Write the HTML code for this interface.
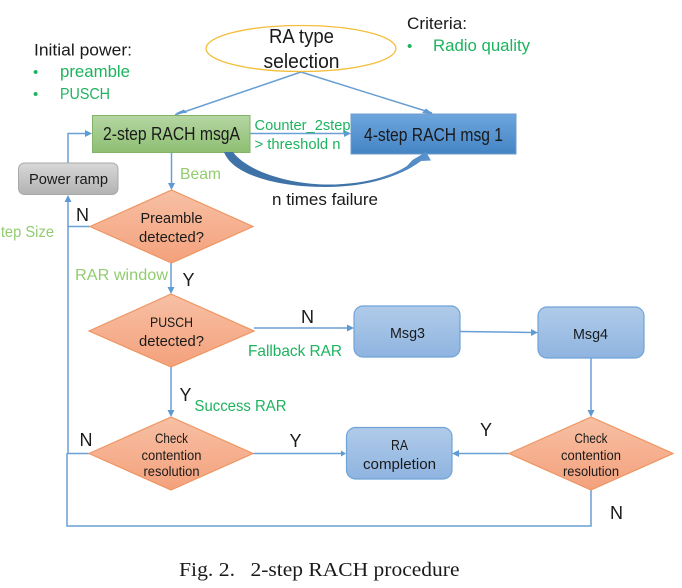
<!DOCTYPE html>
<html><head><meta charset="utf-8"><style>
html,body{margin:0;padding:0;background:#fff;width:682px;height:588px;overflow:hidden}
svg{display:block}
text{font-family:"Liberation Sans",sans-serif;fill:#1a1a1a}
.g{fill:#1db35e}.l{fill:#92cc6e}
</style></head><body>
<svg width="682" height="588" viewBox="0 0 682 588" xmlns="http://www.w3.org/2000/svg">
<defs>
<linearGradient id="gr" x1="0" y1="0" x2="0" y2="1"><stop offset="0" stop-color="#b5d6a3"/><stop offset="1" stop-color="#8ebf72"/></linearGradient>
<linearGradient id="bl" x1="0" y1="0" x2="0" y2="1"><stop offset="0" stop-color="#6ea6de"/><stop offset="1" stop-color="#4484c4"/></linearGradient>
<linearGradient id="lb" x1="0" y1="0" x2="0" y2="1"><stop offset="0" stop-color="#b0cbe9"/><stop offset="1" stop-color="#8fb4e0"/></linearGradient>
<linearGradient id="gy" x1="0" y1="0" x2="0" y2="1"><stop offset="0" stop-color="#d8d8d8"/><stop offset="1" stop-color="#b2b2b2"/></linearGradient>
<linearGradient id="or" x1="0" y1="0" x2="0" y2="1"><stop offset="0" stop-color="#f7c0a4"/><stop offset="1" stop-color="#f4a17c"/></linearGradient>
<linearGradient id="cv" x1="0" y1="0" x2="1" y2="0"><stop offset="0" stop-color="#3f73a8"/><stop offset=".65" stop-color="#3f73a8"/><stop offset="1" stop-color="#5a94d0"/></linearGradient>
</defs>

<!-- connectors -->
<g fill="none" stroke="#6a9fd4" stroke-width="1.500">
<path d="M301,72 L175,115"/>
<path d="M301,72 L432,113"/>
<path d="M250,133.500 L345,133.500"/>
<path d="M68,163 V133.500 H87"/>
<path d="M171.500,152.500 V185"/>
<path d="M90,226.500 H68 V200"/>
<path d="M171,263 V288"/>
<path d="M254,328 H349"/>
<path d="M460,331.500 L532,332.500"/>
<path d="M171,367 V412"/>
<path d="M89,453.500 H68 V226"/>
<path d="M253,453.500 H341"/>
<path d="M591,358 V412"/>
<path d="M509,453.500 H458"/>
<path d="M591,490 V526 H67 V453"/>
</g>
<g fill="#5f9ad3">
<path d="M175,113.500 L184,109.500 L187,113 Z"/>
<path d="M433,114 L422,113 L426,108.500 Z"/>
<path d="M351,133.500 L344,130 V137 Z"/>
<path d="M92,133.500 L85,130 V137 Z"/>
<path d="M171.500,190 L168,183 H175 Z"/>
<path d="M68,195 L64.500,202 H71.500 Z"/>
<path d="M171,294 L167.500,287 H174.500 Z"/>
<path d="M354,328 L347,324.500 V331.500 Z"/>
<path d="M538,332.500 L531,329 V336 Z"/>
<path d="M171,417 L167.500,410 H174.500 Z"/>
<path d="M346,453.500 L341,450.500 V456.500 Z"/>
<path d="M591,417 L587.500,410 H594.500 Z"/>
<path d="M452,453.500 L459,450 V457 Z"/>
</g>

<!-- ellipse -->
<ellipse cx="301" cy="48.500" rx="95" ry="23" fill="#fff" stroke="#f4bd3a" stroke-width="1.300"/>

<!-- boxes -->
<rect x="92.500" y="115.500" width="157.500" height="37" fill="url(#gr)" stroke="#82b366" stroke-width="1"/>
<rect x="351" y="114" width="165" height="40" fill="url(#bl)" stroke="#6f9bc8" stroke-width="1"/>
<rect x="18.500" y="163" width="99.500" height="31.500" rx="6" fill="url(#gy)" stroke="#a9a9a9" stroke-width="1"/>
<rect x="354" y="306" width="106" height="51" rx="9" fill="url(#lb)" stroke="#6fa3d6" stroke-width="1.200"/>
<rect x="538" y="307" width="106" height="51" rx="9" fill="url(#lb)" stroke="#6fa3d6" stroke-width="1.200"/>
<rect x="346.500" y="427.500" width="105.500" height="51.500" rx="9" fill="url(#lb)" stroke="#6fa3d6" stroke-width="1.200"/>

<!-- diamonds -->
<g fill="url(#or)" stroke="#ee9560" stroke-width="1.200">
<polygon points="90,226.500 171.500,190 253,226.500 171.500,263"/>
<polygon points="89,331 171,294 254,331 171,367"/>
<polygon points="89,453.500 171,417 253,453.500 171,490"/>
<polygon points="509,453.500 591,417 673,453.500 591,490"/>
</g>

<!-- curved arrow -->
<path d="M224,152 H233 C246,170 285,183.500 325,184.500 C360,185 390,177 407,166 L412.500,160 L426,152 L431,160.500 L421,161 C400,177 365,187 325,187 C275,187 232,174 224,152 Z" fill="url(#cv)"/>

<!-- labels -->
<g text-anchor="middle">
<text x="301.500" y="43" font-size="20" textLength="65" lengthAdjust="spacingAndGlyphs">RA type</text>
<text x="301.500" y="68" font-size="20" textLength="76" lengthAdjust="spacingAndGlyphs">selection</text>
<text x="171.500" y="140" font-size="18" textLength="137" lengthAdjust="spacingAndGlyphs">2-step RACH msgA</text>
<text x="433.500" y="141" font-size="18" textLength="139" lengthAdjust="spacingAndGlyphs">4-step RACH msg 1</text>
<text x="68.500" y="184" font-size="15" textLength="79" lengthAdjust="spacingAndGlyphs">Power ramp</text>
<text x="171.500" y="223" font-size="15" textLength="62" lengthAdjust="spacingAndGlyphs">Preamble</text>
<text x="171.500" y="242" font-size="15" textLength="65" lengthAdjust="spacingAndGlyphs">detected?</text>
<text x="171.500" y="327" font-size="14" textLength="43" lengthAdjust="spacingAndGlyphs">PUSCH</text>
<text x="171.500" y="346" font-size="15" textLength="65" lengthAdjust="spacingAndGlyphs">detected?</text>
<text x="171.500" y="443" font-size="14" textLength="33" lengthAdjust="spacingAndGlyphs">Check</text>
<text x="171.500" y="460" font-size="14" textLength="60" lengthAdjust="spacingAndGlyphs">contention</text>
<text x="171.500" y="476" font-size="14" textLength="56" lengthAdjust="spacingAndGlyphs">resolution</text>
<text x="591" y="443" font-size="14" textLength="33" lengthAdjust="spacingAndGlyphs">Check</text>
<text x="591" y="460" font-size="14" textLength="60" lengthAdjust="spacingAndGlyphs">contention</text>
<text x="591" y="476" font-size="14" textLength="56" lengthAdjust="spacingAndGlyphs">resolution</text>
<text x="407.500" y="338" font-size="15" textLength="35" lengthAdjust="spacingAndGlyphs">Msg3</text>
<text x="590.500" y="339" font-size="15" textLength="35" lengthAdjust="spacingAndGlyphs">Msg4</text>
<text x="399.500" y="450" font-size="15" textLength="17" lengthAdjust="spacingAndGlyphs">RA</text>
<text x="399.500" y="469" font-size="15" textLength="73" lengthAdjust="spacingAndGlyphs">completion</text>
<text x="325" y="205" font-size="16.500" textLength="106" lengthAdjust="spacingAndGlyphs">n times failure</text>
</g>

<text x="34" y="55.500" font-size="16.500" textLength="98" lengthAdjust="spacingAndGlyphs">Initial power:</text>
<text x="33" y="77" font-size="15" class="g">•</text>
<text x="60" y="77" font-size="16.500" class="g" textLength="70" lengthAdjust="spacingAndGlyphs">preamble</text>
<text x="33" y="99" font-size="15" class="g">•</text>
<text x="60" y="99" font-size="16" class="g" textLength="50" lengthAdjust="spacingAndGlyphs">PUSCH</text>
<text x="407" y="29" font-size="16.500" textLength="60" lengthAdjust="spacingAndGlyphs">Criteria:</text>
<text x="407" y="51" font-size="15" class="g">•</text>
<text x="433" y="51" font-size="16.500" class="g" textLength="97" lengthAdjust="spacingAndGlyphs">Radio quality</text>

<text x="254.500" y="130" font-size="15" class="g" textLength="96" lengthAdjust="spacingAndGlyphs">Counter_2step</text>
<text x="254.500" y="149" font-size="15" class="g" textLength="86" lengthAdjust="spacingAndGlyphs">&gt; threshold n</text>

<text x="180" y="179" font-size="16" class="l" textLength="41" lengthAdjust="spacingAndGlyphs">Beam</text>
<text x="-9" y="237" font-size="16" class="l" textLength="63" lengthAdjust="spacingAndGlyphs">Step Size</text>
<text x="75" y="280" font-size="16" class="l" textLength="93" lengthAdjust="spacingAndGlyphs">RAR window</text>
<text x="248" y="356" font-size="16" class="g" textLength="94" lengthAdjust="spacingAndGlyphs">Fallback RAR</text>
<text x="194.500" y="411" font-size="16" class="g" textLength="92" lengthAdjust="spacingAndGlyphs">Success RAR</text>

<g font-size="18">
<text x="76" y="221">N</text>
<text x="182.500" y="286">Y</text>
<text x="301" y="323">N</text>
<text x="179.500" y="401">Y</text>
<text x="79.500" y="446">N</text>
<text x="289.500" y="447">Y</text>
<text x="480" y="436">Y</text>
<text x="610" y="519">N</text>
</g>

<g font-size="20">
<text x="179" y="576" style="font-family:'Liberation Serif',serif" textLength="56" lengthAdjust="spacingAndGlyphs">Fig. 2.</text>
<text x="250.500" y="576" style="font-family:'Liberation Serif',serif" textLength="209" lengthAdjust="spacingAndGlyphs">2-step RACH procedure</text>
</g>
</svg>
</body></html>
